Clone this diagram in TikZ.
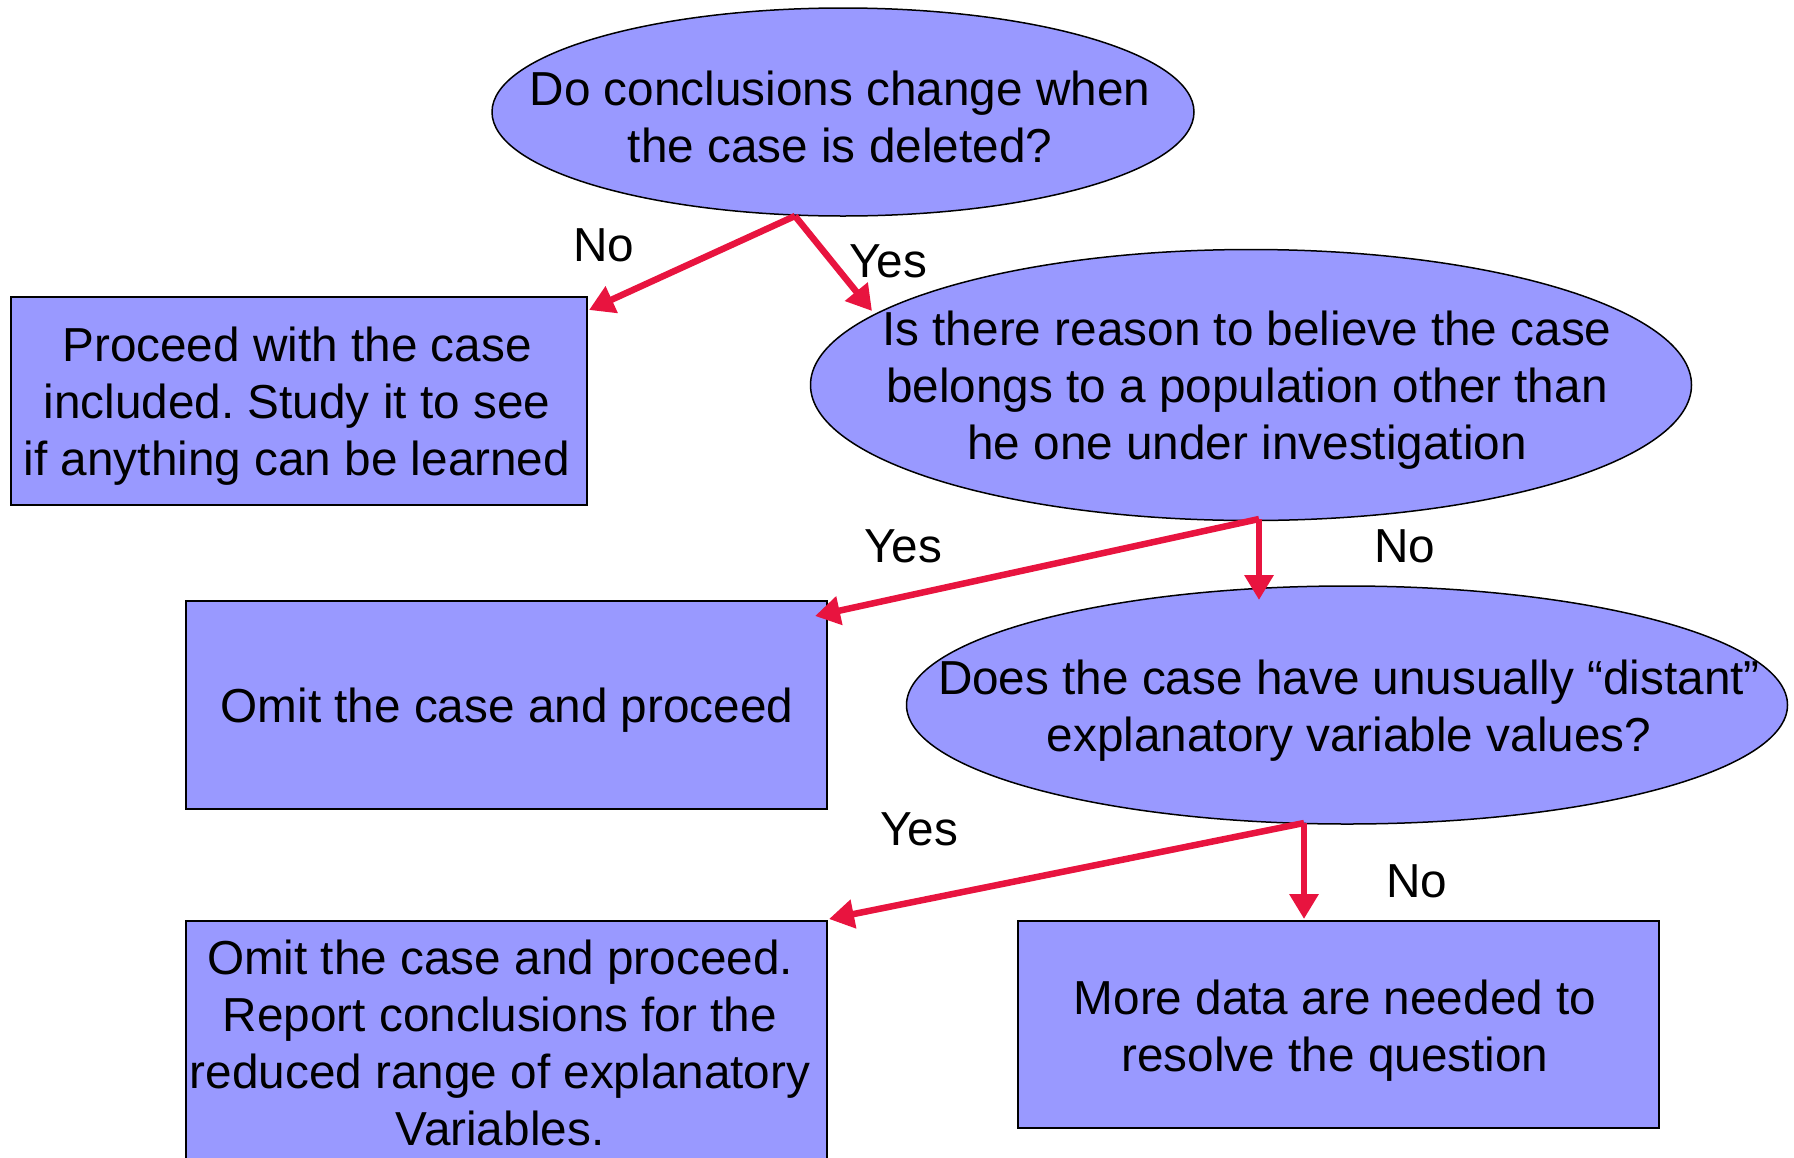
\documentclass[tikz,border=0pt]{standalone}
\usepackage{fontspec}
\setmainfont{Liberation Sans}
\frenchspacing
\usetikzlibrary{shapes.geometric,arrows.meta}
\definecolor{fillblue}{HTML}{9999FF}
\definecolor{arrowred}{HTML}{E8143F}
\begin{document}
\begin{tikzpicture}[x=1pt,y=-1pt,
  ell/.style={ellipse,draw=black,line width=1.5pt,fill=fillblue,inner sep=0pt},
  boxnode/.style={rectangle,draw=black,line width=1.5pt,fill=fillblue,inner sep=0pt},
  txt/.style={align=center,font=\fontsize{47.7}{57}\selectfont,inner sep=0pt},
  lbl/.style={font=\fontsize{47.7}{57}\selectfont,inner sep=0pt},
  arr/.style={draw=arrowred,line width=6.5pt,-{Triangle[length=25pt,width=28pt]}}]
\useasboundingbox (0,0) rectangle (1794,1157);
% shapes
\node[ell,minimum width=702pt,minimum height=208pt] (e1) at (843,112) {};
\node[ell,minimum width=881pt,minimum height=271pt] (e2) at (1251,385) {};
\node[ell,minimum width=881pt,minimum height=238pt] (e3) at (1347,705) {};
\node[boxnode,minimum width=576pt,minimum height=208pt] (b1) at (299,401) {};
\node[boxnode,minimum width=641pt,minimum height=208pt] (b2) at (506.5,705) {};
\node[boxnode,minimum width=641pt,minimum height=244pt] (b3) at (506.5,1043) {};
\node[boxnode,minimum width=641pt,minimum height=207pt] (b4) at (1338.5,1024.5) {};
% texts
\node[txt] (e1t) at (840,117) {Do conclusions change when\\the case is deleted?};
\node[txt] (e2t) at (1247,390) {Is there reason to believe the case\\belongs to a population other than\\he one under investigation};
\node[txt] (e3t) at (1349,711) {Does the case have unusually “distant”\\explanatory variable values?};
\node[txt] (b1t) at (297,406) {Proceed with the case\\included. Study it to see\\if anything can be learned};
\node[txt] (b2t) at (507,710) {Omit the case and proceed};
\node[txt] (b3t) at (500,1043) {Omit the case and proceed.\\Report conclusions for the\\reduced range of explanatory\\Variables.};
\node[txt] (b4t) at (1335,1031) {More data are needed to\\resolve the question};
% connector points
\coordinate (s1) at (795,216);
\coordinate (t1) at (589,310);
\coordinate (t2) at (872,311);
\coordinate (s2) at (1259,519);
\coordinate (t3) at (815,616);
\coordinate (t4) at (1259,600);
\coordinate (s3) at (1304,823);
\coordinate (t5) at (829,919);
\coordinate (t6) at (1304,919);
% connectors
\draw[arr] (s1) -- (t1);
\draw[arr] (s1) -- (t2);
\draw[arr] (s2) -- (t3);
\draw[arr] (s2) -- (t4);
\draw[arr] (s3) -- (t5);
\draw[arr] (s3) -- (t6);
% labels
\node[lbl] (l1) at (604,245) {No};
\node[lbl] (l2) at (888,261) {Yes};
\node[lbl] (l3) at (903,546) {Yes};
\node[lbl] (l4) at (1405,546) {No};
\node[lbl] (l5) at (919,829) {Yes};
\node[lbl] (l6) at (1417,881) {No};
\end{tikzpicture}
\end{document}
